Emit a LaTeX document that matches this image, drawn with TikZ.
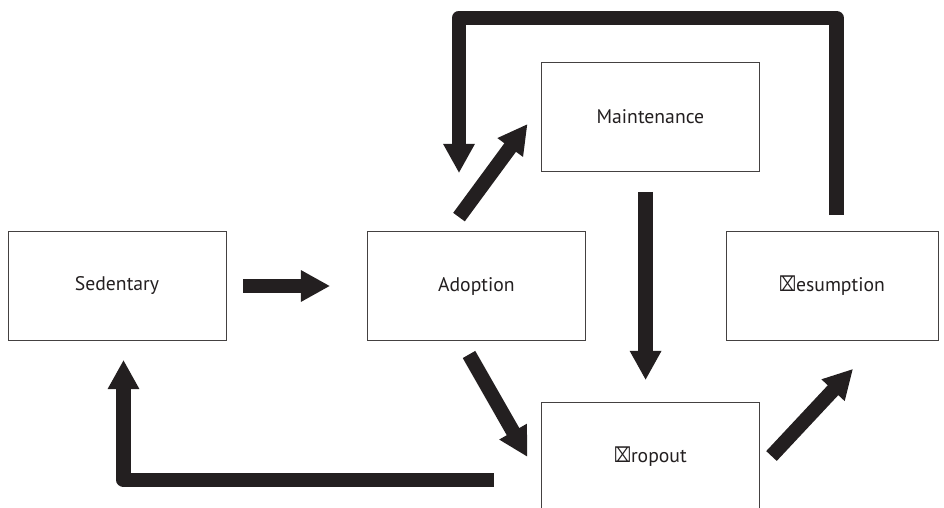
\documentclass[tikz,border=0pt]{standalone}
\usepackage{fontspec}
\setmainfont{PT Sans}
\newfontfamily\symfont{DejaVu Sans}
\usepackage{xcolor}
\usetikzlibrary{arrows.meta, calc}

\definecolor{ink}{HTML}{231F20}
\newcommand{\boxx}{{\symfont\scalebox{0.75}[1.05]{⌧}}}

\begin{document}
\begin{tikzpicture}[
  stage/.style={draw=ink!85, line width=0.7pt, minimum width=5.45cm, minimum height=2.72cm,
                font=\fontsize{14}{17}\selectfont, text=ink},
  fat/.style={-{Triangle[length=0.73cm, width=0.74cm]}, line width=0.36cm, draw=ink, line join=round},
]
\useasboundingbox (0,0) rectangle (23.6,12.7);

% ── stages ──
\node[stage] (sed) at (2.925,5.55) {Sedentary};
\node[stage] (ado) at (11.91,5.55) {Adoption};
\node[stage] (mnt) at (16.26,9.775) {Maintenance};
\node[stage, minimum width=5.3cm] (res) at (20.8,5.55) {\boxx esumption};
\node[stage] (drp) at (16.26,1.275) {\boxx ropout};

% ── straight transitions ──
\draw[fat, shorten <=0.42cm, shorten >=0.92cm] (sed.east) -- (ado.west);
\draw[fat] ([shift={(-0.435,0.35)}]ado.north) -- ([shift={(-0.335,-0.175)}]mnt.west);
\draw[fat, shorten <=0.5cm, shorten >=0.55cm] ([xshift=-0.12cm]mnt.south) -- ([xshift=-0.12cm]drp.north);
\draw[fat] ([shift={(-0.185,-0.34)}]ado.south) -- ([shift={(-0.335,0)}]drp.west);
\draw[fat] ([shift={(0.29,0.025)}]drp.east) -- ([shift={(0.525,-0.7)}]res.south);

% ── loops back ──
\draw[fat] ([shift={(0.11,0.4)}]res.north) -- ++(0,4.935) -| ([shift={(-0.435,1.45)}]ado.north);
\draw[fat] ([shift={(-1.185,-0.575)}]drp.west) -| ([shift={(0.1625,-0.475)}]sed.south);
\end{tikzpicture}
\end{document}
